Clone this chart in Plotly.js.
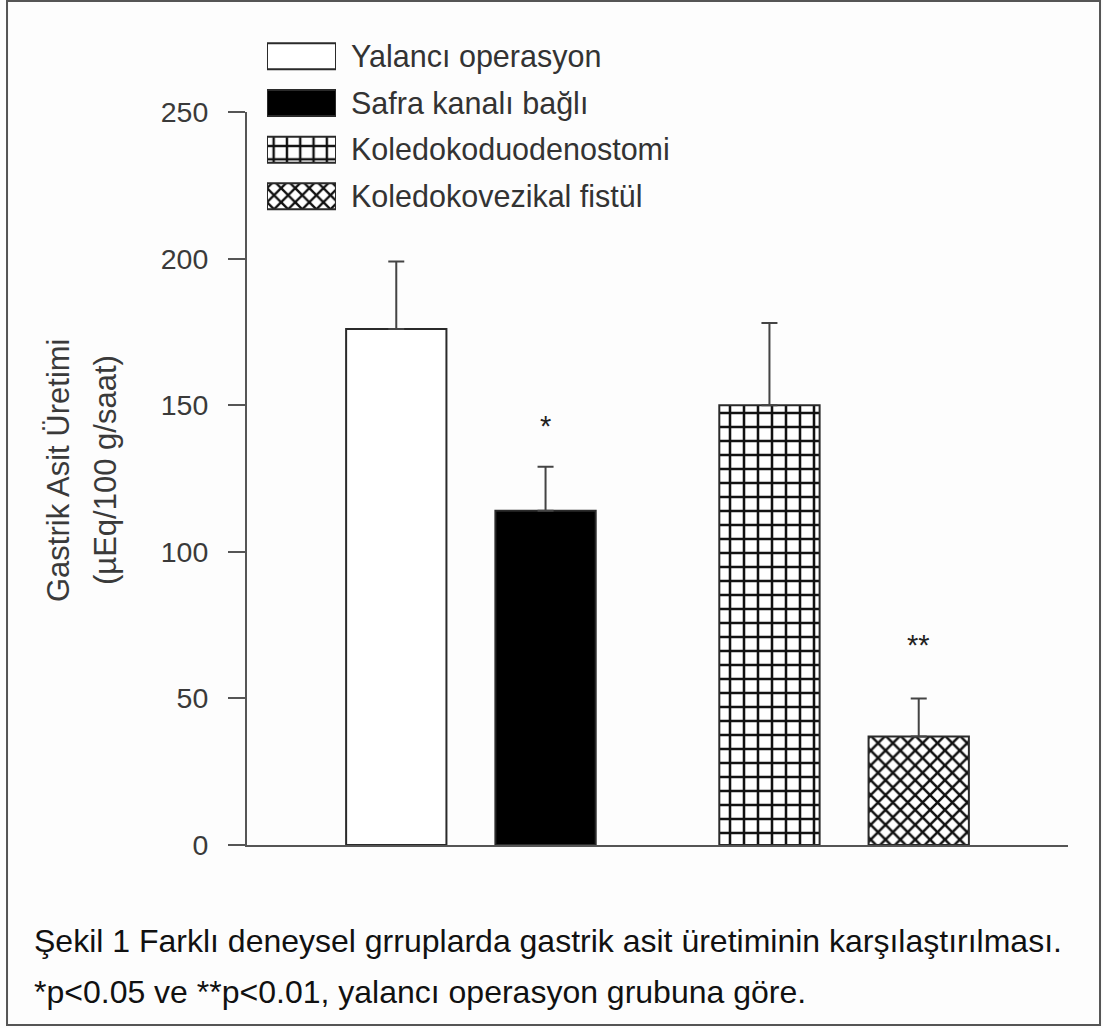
<!DOCTYPE html>
<html>
<head>
<meta charset="utf-8">
<script src="https://cdn.plot.ly/plotly-3.0.1.min.js"></script>
<style>
  html, body { margin: 0; padding: 0; background: #fdfdfd; }
  #chart { width: 1103px; height: 1028px; }
</style>
</head>
<body>
<div id="chart"></div>
<script>
// ---- data ----
const groups = ['Yalancı operasyon', 'Safra kanalı bağlı', 'Koledokoduodenostomi', 'Koledokovezikal fistül'];
const means = [176, 114, 150, 37];
const sems = [23, 15, 28, 13];
const significance = ['', '*', '', '**'];
const yTickVals = [0, 50, 100, 150, 200, 250];
const yTitleLines = ['Gastrik Asit Üretimi', '(µEq/100 g/saat)'];
const caption1 = 'Şekil 1 Farklı deneysel grruplarda gastrik asit üretiminin karşılaştırılması.';
const caption2 = '*p<0.05 ve **p<0.01, yalancı operasyon grubuna göre.';

// ---- styling ----
const FONT = 'Liberation Sans, Arial, Helvetica, sans-serif';
const fills = ['#ffffff', '#000000', '#ffffff', '#ffffff'];
const patShapes = ['', '', '+', 'x'];
const patSizes = [10, 10, 14, 10.5];
const patSolid = [0.3, 0.3, 0.33, 0.42];
const sigShift = [0, 23, 0, 35];
const lineCol = '#2a2a2a';

// group positions: a wider gap between the 2nd and 3rd groups
const xPos = groups.map((g, i) => i + 1 + (i >= 2 ? 0.5 : 0));

function markerFor(i, legend) {
  const m = { color: fills[i], line: { color: lineCol, width: 2 } };
  if (patShapes[i]) {
    m.pattern = {
      shape: patShapes[i],
      size: legend ? patSizes[i] * 0.95 : patSizes[i],
      solidity: patSolid[i],
      fgcolor: '#111111',
      bgcolor: '#ffffff'
    };
  }
  return m;
}

const traces = [];
groups.forEach((g, i) => {
  traces.push({
    type: 'bar', name: g,
    x: [xPos[i]], y: [means[i]],
    width: 0.672,
    marker: markerFor(i, false),
    error_y: { type: 'data', symmetric: false, array: [sems[i]], arrayminus: [0], color: '#444', thickness: 2, width: 8 },
    hoverinfo: 'skip', showlegend: false
  });
});
groups.forEach((g, i) => {
  traces.push({
    type: 'bar', orientation: 'h', name: g + ' (key)',
    xaxis: 'x2', yaxis: 'y2',
    y: [i], x: [1], base: 0, width: 0.557,
    marker: markerFor(i, true),
    hoverinfo: 'skip', showlegend: false
  });
});

const annotations = [];
groups.forEach((g, i) => {
  if (significance[i]) {
    annotations.push({
      x: xPos[i], y: means[i] + sems[i], xref: 'x', yref: 'y',
      text: significance[i], showarrow: false, yanchor: 'bottom', yshift: sigShift[i],
      font: { family: FONT, size: 29, color: '#222' }
    });
  }
});
// y-axis title, two rotated lines
const titleX = [-0.2302, -0.1730];
yTitleLines.forEach((t, k) => {
  annotations.push({
    xref: 'paper', yref: 'paper', x: titleX[k], y: 0.4545, xanchor: 'center', yanchor: 'middle',
    text: t, textangle: -90, showarrow: false,
    font: { family: FONT, size: 31, color: '#3a3a3a' }
  });
});
annotations.push({
  xref: 'paper', yref: 'paper', x: -0.2619, y: -0.1164, xanchor: 'left', yanchor: 'middle',
  text: caption1, showarrow: false, font: { family: FONT, size: 32, color: '#111' }
});
annotations.push({
  xref: 'paper', yref: 'paper', x: -0.2619, y: -0.1782, xanchor: 'left', yanchor: 'middle',
  text: caption2, showarrow: false, font: { family: FONT, size: 32, color: '#111' }
});

const layout = {
  width: 1103, height: 1028,
  margin: { l: 247, r: 35, t: 20, b: 183 },
  paper_bgcolor: '#fdfdfd',
  plot_bgcolor: 'rgba(0,0,0,0)',
  font: { family: FONT, color: '#333' },
  showlegend: false,
  barmode: 'overlay',
  xaxis: {
    domain: [0, 1], range: [0, 5.5],
    showline: true, linecolor: '#555', linewidth: 2,
    showticklabels: false, ticks: '', showgrid: false, zeroline: false, fixedrange: true
  },
  yaxis: {
    domain: [0, 0.8885], range: [0, 250],
    tickvals: yTickVals, ticks: 'outside', ticklen: 17, tickwidth: 2, tickcolor: '#555',
    ticklabelstandoff: 14,
    showline: true, linecolor: '#555', linewidth: 2,
    showgrid: false, zeroline: false, fixedrange: true,
    tickfont: { family: FONT, size: 28.5, color: '#3a3a3a' }
  },
  xaxis2: {
    domain: [0.02436, 0.1084], range: [0, 1], anchor: 'y2',
    visible: false, fixedrange: true
  },
  yaxis2: {
    domain: [0.758, 0.9843], range: [3.5, -0.5], anchor: 'x2', side: 'right',
    tickvals: groups.map((g, i) => i), ticktext: groups,
    ticks: '', showline: false, showgrid: false, zeroline: false, fixedrange: true,
    ticklabelstandoff: 14,
    tickfont: { family: FONT, size: 30.5, color: '#333' }
  },
  shapes: [{
    type: 'rect', xref: 'paper', yref: 'paper',
    x0: -0.2923, x1: 1.039, y0: -0.2182, y1: 1.023,
    line: { color: '#555', width: 2 }, fillcolor: 'rgba(0,0,0,0)', layer: 'below'
  }],
  annotations: annotations
};

Plotly.newPlot('chart', traces, layout, { displayModeBar: false });
</script>
</body>
</html>
